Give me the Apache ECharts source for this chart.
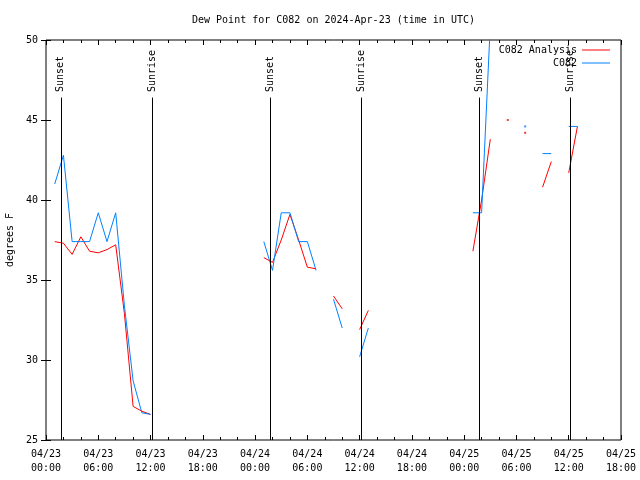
<!DOCTYPE html>
<html><head><meta charset="utf-8">
<script src="https://cdn.jsdelivr.net/npm/echarts@6/dist/echarts.min.js"></script>
<style>html,body{margin:0;padding:0;background:#fff}#c{width:640px;height:480px}</style>
</head><body><div id="c"></div>
<script>
// Hours since 2024-04-23 00:00 UTC
const hours = [0,1,2,3,4,5,6,7,8,9,10,11,12,13,14,15,16,17,18,19,20,21,22,23,24,25,26,27,28,29,30,
  31,32,33,34,35,36,37,38,39,40,41,42,43,44,45,46,47,48,49,50,51,52,53,54,55,56,57,58,59,60,61];
// C082 Analysis (red)
const analysis = [null,37.4,37.3,36.6,37.7,36.8,36.7,36.9,37.2,32.9,27.1,26.8,26.6,
  null,null,null,null,null,null,null,null,null,null,null,null,
  36.4,36.1,37.5,39.1,37.5,35.8,35.7,null,34.0,33.2,null,31.9,33.1,
  null,null,null,null,null,null,null,null,null,null,null,
  36.8,40.0,43.8,null,45.0,null,44.2,null,40.8,42.4,null,41.7,44.6];
// C082 observed (blue)
const observed = [null,41.0,42.8,37.4,37.4,37.4,39.2,37.4,39.2,33.4,28.7,26.7,26.6,
  null,null,null,null,null,null,null,null,null,null,null,null,
  37.4,35.6,39.2,39.2,37.4,37.4,35.6,null,33.8,32.0,null,30.2,32.0,
  null,null,null,null,null,null,null,null,null,null,null,
  39.2,39.2,51.0,null,null,null,44.6,null,42.9,42.9,null,44.6,44.6];
const sunsetHours = [1.70, 25.72, 49.77];
const sunriseHours = [12.18, 36.18, 60.15];
const xMin = 0, xMax = 66, xStep = 6;
const yMin = 25, yMax = 50, yStep = 5;
const days = ['04/23','04/24','04/25'];

const FONT = 'DejaVu Sans Mono';
const RED = '#ff0000', BLUE = '#0080ff';

function pairs(vals){ return hours.map((h,i)=>[h, vals[i] == null ? '-' : vals[i]]); }
function isolated(vals){
  const out = [];
  vals.forEach((v,i)=>{ if(v!=null && vals[i-1]==null && vals[i+1]==null) out.push([hours[i], v]); });
  return out;
}
function xLabel(h){
  const d = Math.floor(h/24), hh = h%24;
  return days[d] + '\n' + (hh<10?'0':'') + hh + ':00';
}
const lineTop = 46.4, labelBase = 46.75;
const eventLines = [], eventLabels = [];
sunsetHours.forEach(h=>{ eventLines.push([{coord:[h,yMin]},{coord:[h,lineTop]}]); eventLabels.push({coord:[h,labelBase], name:'Sunset'}); });
sunriseHours.forEach(h=>{ eventLines.push([{coord:[h,yMin]},{coord:[h,lineTop]}]); eventLabels.push({coord:[h,labelBase], name:'Sunrise'}); });

const tickStyle = {show:true, inside:true, length:5, lineStyle:{color:'#000', width:1}};
const minorStyle = {show:true, splitNumber:3, length:3, lineStyle:{color:'#000', width:1}};

const chart = echarts.init(document.getElementById('c'), null, {renderer:'canvas'});
chart.setOption({
  animation:false,
  backgroundColor:'#fff',
  title:{text:'Dew Point for C082 on 2024-Apr-23 (time in UTC)', left:192, top:15, padding:0,
    textStyle:{fontFamily:FONT, fontSize:10, fontWeight:'normal', color:'#000'}},
  legend:{orient:'vertical', align:'right', right:30, top:44, padding:0, itemGap:1,
    itemWidth:28, itemHeight:1, icon:'rect', data:['C082 Analysis','C082'],
    textStyle:{fontFamily:FONT, fontSize:10, color:'#000', lineHeight:12}},
  grid:{left:46, right:19, top:40, bottom:40, containLabel:false, outerBoundsMode:'none',
    show:true, borderColor:'#000', borderWidth:1, backgroundColor:'transparent'},
  xAxis:[
    {type:'value', min:xMin, max:xMax, interval:xStep, position:'bottom',
     axisLine:{show:false}, splitLine:{show:false}, axisTick:tickStyle, minorTick:minorStyle,
     axisLabel:{formatter:xLabel, fontFamily:FONT, fontSize:10, color:'#000', margin:7, lineHeight:14}},
    {type:'value', min:xMin, max:xMax, interval:xStep, position:'top',
     axisLine:{show:false}, splitLine:{show:false}, axisTick:tickStyle, minorTick:minorStyle,
     axisLabel:{show:false}}
  ],
  yAxis:[
    {type:'value', min:yMin, max:yMax, interval:yStep, position:'left',
     name:'degrees F', nameLocation:'middle', nameGap:31,
     nameTextStyle:{fontFamily:FONT, fontSize:10, color:'#000'},
     axisLine:{show:false}, splitLine:{show:false}, axisTick:tickStyle,
     axisLabel:{fontFamily:FONT, fontSize:10, color:'#000', margin:8}},
    {type:'value', min:yMin, max:yMax, interval:yStep, position:'right',
     axisLine:{show:false}, splitLine:{show:false}, axisTick:tickStyle, axisLabel:{show:false}}
  ],
  series:[
    {name:'events', type:'line', data:[], silent:true,
     markLine:{silent:true, symbol:['none','none'], label:{show:false},
       lineStyle:{color:'#000', width:1, type:'solid'}, data:eventLines},
     markPoint:{silent:true, symbol:'rect', symbolSize:0, data:eventLabels,
       label:{show:true, formatter:'{b}', position:'inside', rotate:90, align:'left', verticalAlign:'middle',
         fontFamily:FONT, fontSize:10, color:'#000'}}},
    {name:'C082 Analysis', type:'line', data:pairs(analysis), connectNulls:false, showSymbol:false, symbol:'none',
     color:RED, lineStyle:{color:RED, width:1}, z:3},
    {name:'C082', type:'line', data:pairs(observed), connectNulls:false, showSymbol:false, symbol:'none',
     color:BLUE, lineStyle:{color:BLUE, width:1}, z:4},
    {name:'analysisDots', type:'scatter', data:isolated(analysis), symbol:'rect', symbolSize:2, itemStyle:{color:RED}, silent:true},
    {name:'obsDots', type:'scatter', data:isolated(observed), symbol:'rect', symbolSize:2, itemStyle:{color:BLUE}, silent:true}
  ]
});
</script></body></html>
